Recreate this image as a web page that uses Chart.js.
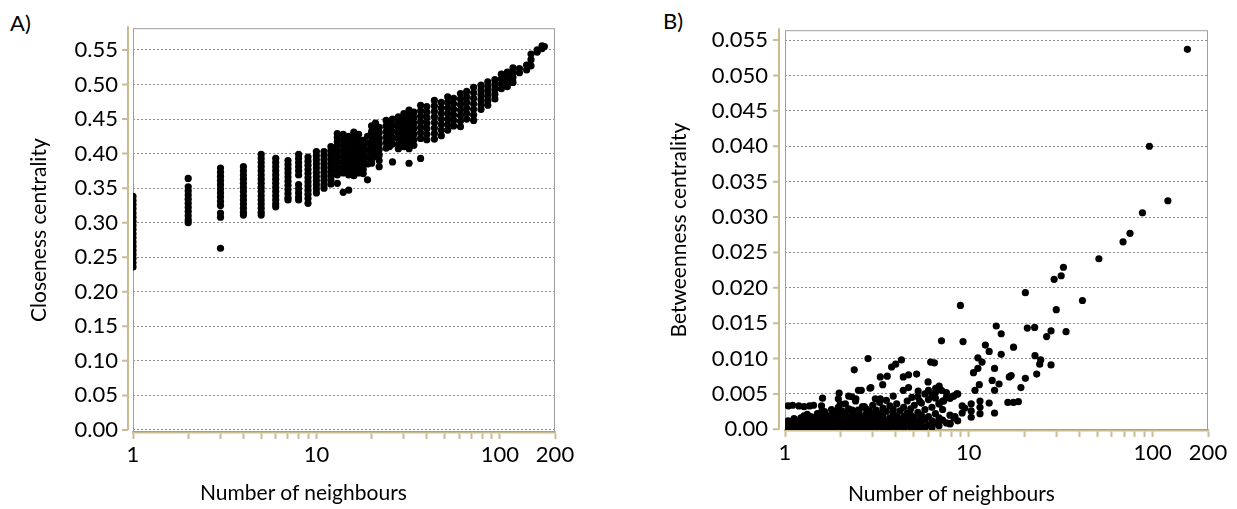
<!DOCTYPE html>
<html>
<head>
<meta charset="utf-8">
<script src="https://cdn.jsdelivr.net/npm/chart.js@4.4.1/dist/chart.umd.min.js"></script>
<style>
    body { margin: 0; background: #fff; width: 1237px; height: 509px; position: relative; overflow: hidden; font-family: Lato, sans-serif; }
    canvas { position: absolute; top: 0; }
    #chartA { left: 0; }
    #chartB { left: 618px; }
    .tag { position: absolute; font-size: 22px; color: #000; line-height: 1; }
    .xtitle { position: absolute; font-size: 21px; color: #000; line-height: 1; white-space: nowrap; }
</style>
</head>
<body>
<div class="tag" style="left:10px;top:12px">A)</div>
<div class="tag" style="left:663px;top:10px">B)</div>
<canvas id="chartA" width="618" height="509"></canvas>
<canvas id="chartB" width="619" height="509"></canvas>
<div class="xtitle" style="left:200px;top:481px">Number of neighbours</div>
<div class="xtitle" style="left:848px;top:482px">Number of neighbours</div>
<script>
// ================================
// Closeness / betweenness vs number of neighbours
// ================================

const xTicks = [1, 2, 3, 4, 5, 6, 7, 8, 9, 10, 20, 30, 40, 50, 60, 70, 80, 90, 100, 200];
const xLabels = [1, 10, 100, 200];

const closeTicks = [0, 0.05, 0.10, 0.15, 0.20, 0.25, 0.30, 0.35, 0.40, 0.45, 0.50, 0.55];
const closeLabels = ["0.00", "0.05", "0.10", "0.15", "0.20", "0.25", "0.30", "0.35", "0.40", "0.45", "0.50", "0.55"];

const betweenTicks = [0, 0.005, 0.010, 0.015, 0.020, 0.025, 0.030, 0.035, 0.040, 0.045, 0.050, 0.055];
const betweenLabels = ["0.00", "0.005", "0.010", "0.015", "0.020", "0.025", "0.030", "0.035", "0.040", "0.045", "0.050", "0.055"];

// panel A: nodes share integer neighbour counts, so values are listed per count
const closeStackX = [1, 2, 3, 4, 5, 6, 7, 8, 9, 10, 11, 12, 13, 14, 15, 16, 17, 18, 19, 20, 21, 22, 24, 25, 26, 28, 30, 32, 34, 37, 40, 44, 48, 52, 56, 61, 66, 72, 79, 86, 94, 102, 110, 118, 128, 140, 148, 160, 170, 175];
const closeStackY = [
    [0.236, 0.242, 0.248, 0.254, 0.260, 0.266, 0.272, 0.278, 0.284, 0.290, 0.296, 0.302, 0.308, 0.314, 0.320, 0.326, 0.332, 0.338],
    [0.300, 0.304, 0.310, 0.316, 0.322, 0.328, 0.334, 0.340, 0.346, 0.352, 0.364],
    [0.263, 0.308, 0.314, 0.325, 0.331, 0.337, 0.343, 0.349, 0.355, 0.361, 0.367, 0.373, 0.379],
    [0.311, 0.315, 0.321, 0.327, 0.333, 0.339, 0.345, 0.351, 0.357, 0.363, 0.369, 0.375, 0.381],
    [0.311, 0.315, 0.321, 0.327, 0.333, 0.339, 0.345, 0.351, 0.357, 0.363, 0.369, 0.375, 0.381, 0.387, 0.393, 0.399],
    [0.323, 0.327, 0.333, 0.339, 0.345, 0.351, 0.357, 0.363, 0.369, 0.375, 0.381, 0.387, 0.393],
    [0.333, 0.336, 0.342, 0.348, 0.354, 0.360, 0.366, 0.372, 0.378, 0.384, 0.390],
    [0.333, 0.337, 0.343, 0.349, 0.355, 0.369, 0.375, 0.381, 0.387, 0.393, 0.399],
    [0.328, 0.335, 0.341, 0.347, 0.353, 0.359, 0.365, 0.371, 0.377, 0.383, 0.389, 0.395],
    [0.343, 0.349, 0.355, 0.361, 0.367, 0.373, 0.379, 0.385, 0.391, 0.397, 0.403],
    [0.350, 0.355, 0.361, 0.367, 0.373, 0.379, 0.385, 0.391, 0.397, 0.403],
    [0.356, 0.362, 0.368, 0.374, 0.380, 0.386, 0.392, 0.398, 0.404, 0.410],
    [0.357, 0.369, 0.375, 0.381, 0.387, 0.393, 0.399, 0.405, 0.411, 0.417, 0.423, 0.429],
    [0.344, 0.372, 0.380, 0.388, 0.396, 0.404, 0.412, 0.420, 0.428],
    [0.347, 0.369, 0.377, 0.385, 0.393, 0.401, 0.409, 0.417, 0.425],
    [0.368, 0.375, 0.382, 0.389, 0.396, 0.403, 0.410, 0.417, 0.424, 0.431],
    [0.372, 0.380, 0.388, 0.396, 0.404, 0.412, 0.420, 0.428],
    [0.371, 0.377, 0.384, 0.391, 0.398, 0.405, 0.412, 0.419],
    [0.362, 0.385, 0.395, 0.405, 0.415, 0.425],
    [0.386, 0.392, 0.400, 0.408, 0.416, 0.424, 0.432, 0.440],
    [0.396, 0.404, 0.412, 0.420, 0.428, 0.436, 0.444],
    [0.381, 0.390, 0.398, 0.406, 0.414, 0.422, 0.430, 0.438],
    [0.408, 0.416, 0.424, 0.432, 0.440, 0.448],
    [0.410, 0.418, 0.427, 0.436, 0.445],
    [0.388, 0.414, 0.423, 0.432, 0.441, 0.450],
    [0.407, 0.413, 0.421, 0.429, 0.437, 0.445, 0.453],
    [0.410, 0.418, 0.426, 0.434, 0.442, 0.450, 0.458],
    [0.386, 0.407, 0.415, 0.423, 0.431, 0.439, 0.447, 0.455, 0.463],
    [0.412, 0.420, 0.428, 0.436, 0.444, 0.452, 0.460],
    [0.393, 0.422, 0.430, 0.438, 0.446, 0.454, 0.462, 0.470],
    [0.420, 0.428, 0.436, 0.444, 0.452, 0.460, 0.468],
    [0.421, 0.429, 0.437, 0.445, 0.453, 0.461, 0.469, 0.477],
    [0.426, 0.434, 0.442, 0.450, 0.458, 0.466, 0.474],
    [0.434, 0.442, 0.450, 0.458, 0.466, 0.474, 0.482],
    [0.440, 0.448, 0.456, 0.464, 0.472, 0.480],
    [0.439, 0.447, 0.455, 0.463, 0.471, 0.479, 0.487],
    [0.450, 0.458, 0.466, 0.474, 0.482, 0.490],
    [0.448, 0.456, 0.464, 0.472, 0.480, 0.488, 0.496],
    [0.464, 0.471, 0.478, 0.485, 0.492, 0.499],
    [0.470, 0.476, 0.483, 0.490, 0.497, 0.504],
    [0.479, 0.486, 0.493, 0.500, 0.507],
    [0.494, 0.501, 0.508, 0.515],
    [0.497, 0.504, 0.511, 0.518],
    [0.503, 0.510, 0.517, 0.524],
    [0.517, 0.523],
    [0.521, 0.528],
    [0.527, 0.536, 0.544],
    [0.547, 0.550],
    [0.552, 0.556],
    [0.555]
];

// panel B: the dense floor of low-betweenness nodes, listed per neighbour count
const betweenBaseX = [1.00, 1.04, 1.08, 1.12, 1.17, 1.22, 1.27, 1.32, 1.38, 1.44, 1.50, 1.57, 1.64, 1.71, 1.79, 1.87, 1.95, 2.04, 2.13, 2.22, 2.32, 2.42, 2.53, 2.64, 2.76, 2.88, 3.00, 3.13, 3.27, 3.41, 3.56, 3.72, 3.88, 4.05, 4.23, 4.42, 4.62, 4.83, 5.05, 5.28, 5.52, 5.77, 6.03, 6.30, 6.58, 6.88, 7.20, 7.55, 7.90, 8.30, 8.70];
const betweenBaseY = [
    [0.0002, 0.0008], [0.0001, 0.0006, 0.0012], [0.0003, 0.0010], [0.0001, 0.0007, 0.0015],
    [0.0004, 0.0011], [0.0001, 0.0008, 0.0016], [0.0004, 0.0012, 0.0019], [0.0001, 0.0007, 0.0014, 0.0021],
    [0.0004, 0.0011, 0.0018], [0.0001, 0.0008, 0.0016], [0.0004, 0.0012, 0.0022], [0.0001, 0.0009, 0.0017, 0.0024],
    [0.0004, 0.0013, 0.0020, 0.0025], [0.0001, 0.0008, 0.0014, 0.0019], [0.0004, 0.0012, 0.0020, 0.0028], [0.0001, 0.0009, 0.0017, 0.0024],
    [0.0005, 0.0013, 0.0022, 0.0031], [0.0001, 0.0009, 0.0018, 0.0026], [0.0004, 0.0012, 0.0024, 0.0036], [0.0001, 0.0008, 0.0017, 0.0029],
    [0.0005, 0.0013, 0.0021, 0.0027], [0.0001, 0.0009, 0.0018, 0.0040], [0.0004, 0.0013, 0.0020, 0.0025], [0.0001, 0.0008, 0.0017, 0.0032],
    [0.0005, 0.0012, 0.0021, 0.0029], [0.0001, 0.0009, 0.0016, 0.0026], [0.0004, 0.0012, 0.0020, 0.0034], [0.0001, 0.0008, 0.0017, 0.0027],
    [0.0005, 0.0013, 0.0022, 0.0038], [0.0001, 0.0009, 0.0018, 0.0030], [0.0004, 0.0012, 0.0025, 0.0041], [0.0001, 0.0008, 0.0016, 0.0033],
    [0.0005, 0.0013, 0.0022, 0.0028], [0.0002, 0.0010, 0.0019, 0.0036], [0.0005, 0.0014, 0.0026], [0.0001, 0.0009, 0.0018, 0.0031],
    [0.0006, 0.0015, 0.0023, 0.0040], [0.0002, 0.0011, 0.0020, 0.0029], [0.0001, 0.0008, 0.0017, 0.0034], [0.0004, 0.0013, 0.0024, 0.0046],
    [0.0002, 0.0010, 0.0020, 0.0037], [0.0003, 0.0014, 0.0028, 0.0050], [0.0006, 0.0018, 0.0042, 0.0055], [0.0003, 0.0012, 0.0031, 0.0048],
    [0.0009, 0.0022, 0.0044, 0.0052], [0.0005, 0.0016, 0.0036, 0.0058], [0.0013, 0.0028, 0.0040], [0.0009, 0.0045, 0.0052],
    [0.0008, 0.0020, 0.0044], [0.0016, 0.0047], [0.0012, 0.0050]
];

// panel B: the scattered nodes above the floor, as [neighbours, betweenness]
const betweenScatter = [
    [154.5, 0.0537], [96, 0.0400], [121, 0.0323], [88, 0.0306], [75.3, 0.0277], [69, 0.0265],
    [51, 0.0241], [32.7, 0.0229], [31.8, 0.0217], [29.1, 0.0212], [41.5, 0.0182], [20.3, 0.0193],
    [29.9, 0.0169], [9.0, 0.0175], [14.1, 0.0146], [15.0, 0.0135], [20.8, 0.0143], [22.8, 0.0144],
    [28.0, 0.0139], [26.5, 0.0131], [33.8, 0.0138], [7.1, 0.0125], [9.3, 0.0124], [12.3, 0.0119],
    [12.9, 0.0110], [17.5, 0.0116], [15.0, 0.0106], [2.83, 0.0100], [22.9, 0.0104], [24.6, 0.0098],
    [24.3, 0.0092], [28.0, 0.0091], [23.4, 0.0078], [11.2, 0.0101], [11.8, 0.0095], [10.6, 0.0080],
    [11.2, 0.0086], [13.8, 0.0086], [13.4, 0.0069], [14.6, 0.0064], [13.8, 0.0055], [11.4, 0.0063],
    [10.8, 0.0055], [16.6, 0.0074], [17.0, 0.0076], [19.2, 0.0059], [20.3, 0.0072], [16.3, 0.0038],
    [17.5, 0.0038], [18.6, 0.0039], [12.9, 0.0037], [13.8, 0.0023], [11.5, 0.0040], [11.5, 0.0031],
    [11.5, 0.0022], [10.3, 0.0036], [10.3, 0.0026], [10.3, 0.0017], [9.2, 0.0033], [9.2, 0.0023],
    [9.5, 0.0030], [6.5, 0.0094], [6.2, 0.0095], [6.0, 0.0067], [5.2, 0.0078], [4.7, 0.0077],
    [4.4, 0.0074], [4.7, 0.0059], [4.4, 0.0055], [4.3, 0.0098], [4.0, 0.0092], [3.8, 0.0088],
    [3.6, 0.0075], [3.3, 0.0074], [3.4, 0.0063], [2.93, 0.0059], [2.38, 0.0084], [2.51, 0.0055],
    [1.97, 0.0051], [1.60, 0.0044], [2.31, 0.0046], [1.58, 0.0033], [1.04, 0.0033], [1.10, 0.0034],
    [1.19, 0.0033], [1.27, 0.0032], [1.36, 0.0033], [1.43, 0.0034], [6.6, 0.0058], [6.9, 0.0061],
    [7.1, 0.0055], [8.2, 0.0047], [8.6, 0.0050], [7.9, 0.0044], [7.3, 0.0040], [6.9, 0.0036],
    [7.0, 0.0013], [7.9, 0.0008], [8.4, 0.0018], [3.88, 0.0047], [3.3, 0.0043], [3.1, 0.0043],
    [5.3, 0.0054], [5.4, 0.0040], [4.9, 0.0045], [2.7, 0.0032], [2.5, 0.0027], [2.0, 0.0036],
    [1.95, 0.0043], [2.6, 0.0055], [2.9, 0.0058], [2.22, 0.0047], [2.43, 0.0043]
];

const TAN = "#c8bc93";
const FONT = "Lato";

function stacksToPoints(xs, ys) {
    const pts = [];
    xs.forEach((x, i) => ys[i].forEach(y => pts.push({ x: x, y: y })));
    return pts;
}

// grey plot frame plus the detached tan y axis with its tick marks
const framePlugin = {
    id: "frame",
    beforeDatasetsDraw(chart, args, opts) {
        const { ctx, chartArea: a, scales: { y } } = chart;
        ctx.save();
        ctx.strokeStyle = "#a0a0a0";
        ctx.lineWidth = 1;
        ctx.strokeRect(a.left + 0.5, a.top + 0.5, a.width - 1, a.height - 1);
        const ax = a.left - opts.gap;
        ctx.strokeStyle = TAN;
        ctx.lineWidth = 2;
        ctx.beginPath();
        ctx.moveTo(ax, a.top - 2);
        ctx.lineTo(ax, y.getPixelForValue(0));
        y.ticks.forEach(t => {
            const py = y.getPixelForValue(t.value);
            ctx.moveTo(ax - 6, py);
            ctx.lineTo(ax, py);
        });
        ctx.stroke();
        ctx.restore();
    }
};

function makeChart(id, points, cfg) {
    return new Chart(document.getElementById(id), {
        type: "scatter",
        data: {
            datasets: [{
                data: points,
                pointRadius: 3.6,
                pointBackgroundColor: "#000",
                pointBorderWidth: 0,
                clip: 0
            }]
        },
        options: {
            responsive: false,
            animation: false,
            devicePixelRatio: 1,
            events: [],
            layout: { padding: { left: 0, right: cfg.padRight, top: 24, bottom: 0 } },
            plugins: {
                legend: { display: false },
                tooltip: { enabled: false },
                frame: { gap: cfg.gap }
            },
            scales: {
                x: {
                    type: "logarithmic",
                    min: 1,
                    max: 200,
                    afterFit: s => { s.height = cfg.xHeight; },
                    afterBuildTicks: s => { s.ticks = xTicks.map(v => ({ value: v })); },
                    grid: { drawOnChartArea: false, drawTicks: true, tickLength: 7, tickColor: TAN, tickWidth: 2 },
                    border: { color: TAN, width: 2.5 },
                    ticks: {
                        autoSkip: false,
                        maxRotation: 0,
                        padding: 3,
                        color: "#000",
                        font: { family: FONT, size: 22 },
                        callback: v => xLabels.includes(v) ? String(v) : ""
                    }
                },
                y: {
                    min: cfg.yMin,
                    max: cfg.yMax,
                    afterFit: s => { s.width = cfg.yWidth; },
                    afterBuildTicks: s => { s.ticks = cfg.yTicks.map(v => ({ value: v })); },
                    grid: { color: "#8c8c8c", lineWidth: 1, drawTicks: false },
                    border: { display: false, dash: [2, 2] },
                    ticks: {
                        padding: cfg.labelPad,
                        color: "#000",
                        font: { family: FONT, size: 22 },
                        callback: (v, i) => cfg.yLabels[i]
                    },
                    title: {
                        display: true,
                        text: cfg.yTitle,
                        color: "#000",
                        font: { family: FONT, size: 21 },
                        padding: { top: cfg.titlePad, bottom: 0 }
                    }
                }
            }
        },
        plugins: [framePlugin]
    });
}

makeChart("chartA", stacksToPoints(closeStackX, closeStackY), {
    yMin: -0.003, yMax: 0.5815,
    yTicks: closeTicks, yLabels: closeLabels,
    yTitle: "Closeness centrality",
    yWidth: 133, xHeight: 77, padRight: 63,
    gap: 5, labelPad: 15, titlePad: 27
});

makeChart("chartB", stacksToPoints(betweenBaseX, betweenBaseY).concat(betweenScatter.map(p => ({ x: p[0], y: p[1] }))), {
    yMin: -0.0001, yMax: 0.0564,
    yTicks: betweenTicks, yLabels: betweenLabels,
    yTitle: "Betweenness centrality",
    yWidth: 167, xHeight: 79, padRight: 29,
    gap: 6, labelPad: 17, titlePad: 49
});
</script>
</body>
</html>
